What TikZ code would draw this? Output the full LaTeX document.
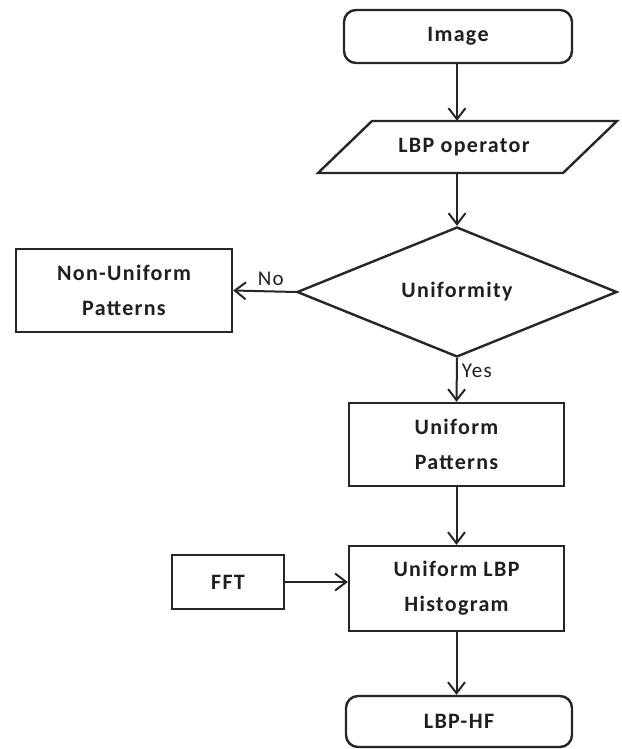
\documentclass[tikz,border=0pt]{standalone}
\usepackage{fontspec}
\setmainfont[LetterSpace=6]{Carlito}
\usetikzlibrary{shapes.geometric,arrows.meta}
\begin{document}
\begin{tikzpicture}[x=1pt,y=-1pt,
  every node/.style={font=\fontsize{22}{35}\selectfont\bfseries, align=center, text=black!88},
  box/.style={draw=black!85, line width=2.4pt, inner sep=0pt},
  rbox/.style={box, rounded corners=12pt},
  conn/.style={draw=black!85, line width=2pt, -{Straight Barb[length=11pt,width=17pt,line width=2pt]}},
  lbl/.style={font=\fontsize{21}{26}\selectfont, inner sep=1pt}]
\useasboundingbox[fill=white] (0,0) rectangle (621,749);

\node[rbox, minimum width=228pt, minimum height=53pt] (img) at (458,36.5) {Image};

\draw[draw=black!85, line width=2.4pt] (372,121) -- (617,121) -- (563,173) -- (318,173) -- cycle;
\node[minimum width=180pt, minimum height=52pt, inner sep=0pt] (lbp) at (464,147) {LBP operator};

\node[box, diamond, minimum width=320pt, minimum height=120pt] (dia) at (457,292) {Uniformity};

\node[box, minimum width=216pt, minimum height=83pt] (nonu) at (124,290.5) {Non-Uniform\\Patterns};

\node[box, minimum width=215pt, minimum height=83pt] (up) at (456.5,444.5) {Uniform\\Patterns};

\node[box, minimum width=215pt, minimum height=85pt] (hist) at (456.5,588.5) {Uniform LBP\\Histogram};

\node[box, minimum width=112pt, minimum height=54pt] (fft) at (228,582) {FFT};

\node[rbox, minimum width=226pt, minimum height=51pt] (hf) at (459,721.5) {LBP-HF};

\draw[conn] (img.south -| 457,0) -- (lbp.north -| 457,0);
\draw[conn] (lbp.south -| 457,0) -- (dia.north);
\draw[conn] (dia.west) -- node[lbl, above=4pt, pos=0.4] {No} (nonu.east);
\draw[conn] (dia.south) -- node[lbl, right=3pt, pos=0.3] {Yes} (up.north);
\draw[conn] (up.south) -- (hist.north);
\draw[conn] (fft.east) -- (fft.east -| hist.west);
\draw[conn] (hist.south) -- (hf.north -| hist.south);
\end{tikzpicture}
\end{document}
